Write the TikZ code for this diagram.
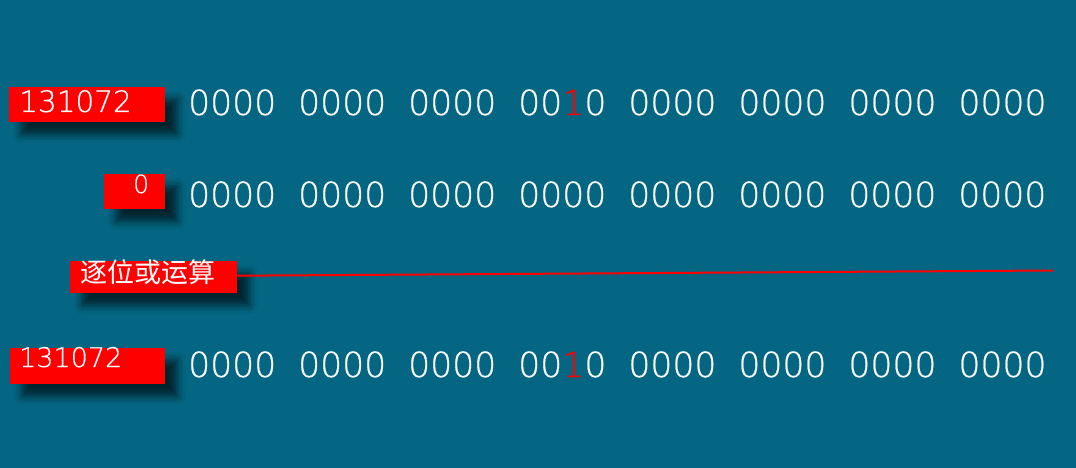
\documentclass[tikz,border=0pt]{standalone}
\usepackage{fontspec}
\newfontfamily\thin[FakeBold=0.6]{DejaVu Sans ExtraLight}
\newfontfamily\cjk{Noto Sans CJK SC}
\usetikzlibrary{shadows.blur}
\definecolor{bg}{RGB}{4,102,130}
\newcommand\bsp{\makebox[22pt]{}}
\newcommand\bitsA{0000\bsp 0000\bsp 0000\bsp 00\textcolor{red}{1}0\bsp 0000\bsp 0000\bsp 0000\bsp 0000}
\newcommand\bitsB{0000\bsp 0000\bsp 0000\bsp 0000\bsp 0000\bsp 0000\bsp 0000\bsp 0000}
\tikzset{
  redbox/.style={fill=red, draw=none, inner sep=0pt, anchor=north west,
    blur shadow={shadow xshift=12pt, shadow yshift=-12pt, shadow blur radius=8pt, shadow opacity=65}},
  bits/.style={text=white, inner sep=0pt, anchor=base west, font=\thin\fontsize{34.6}{40}\selectfont},
  lbl/.style={text=white, inner sep=0pt, anchor=base west},
  redline/.style={draw=red, line width=2pt}
}
\begin{document}
\begin{tikzpicture}[x=1pt,y=-1pt]
\fill[bg] (0,0) rectangle (1076,468);
\useasboundingbox (0,0) rectangle (1076,468);
% boxes
\node[redbox, minimum width=156pt, minimum height=35pt] (b1) at (9,87) {};
\node[redbox, minimum width=61pt, minimum height=35pt] (b2) at (104,174) {};
\node[redbox, minimum width=167pt, minimum height=32pt] (b3) at (70,261) {};
\node[redbox, minimum width=155pt, minimum height=36pt] (b4) at (10,348) {};
% labels
\node[lbl, font=\thin\fontsize{29.5}{34}\selectfont] (t1) at (19,112) {131072};
\node[lbl, font=\thin\fontsize{25}{30}\selectfont] (t2) at (133,193) {0};
\node[text=white, inner sep=0pt, anchor=west, font=\cjk\fontsize{27}{30}\selectfont] (t3) at (80,272) {逐位或运算};
\node[lbl, font=\thin\fontsize{27}{32}\selectfont] (t4) at (19,367) {131072};
% bit rows
\node[bits] (r1) at (188,115) {\bitsA};
\node[bits] (r2) at (188,207) {\bitsB};
\node[bits] (r4) at (188,377) {\bitsA};
% line
\coordinate (lend) at (1053,270.5);
\draw[redline] ([yshift=1.5pt]b3.east) -- (lend);
\end{tikzpicture}
\end{document}
